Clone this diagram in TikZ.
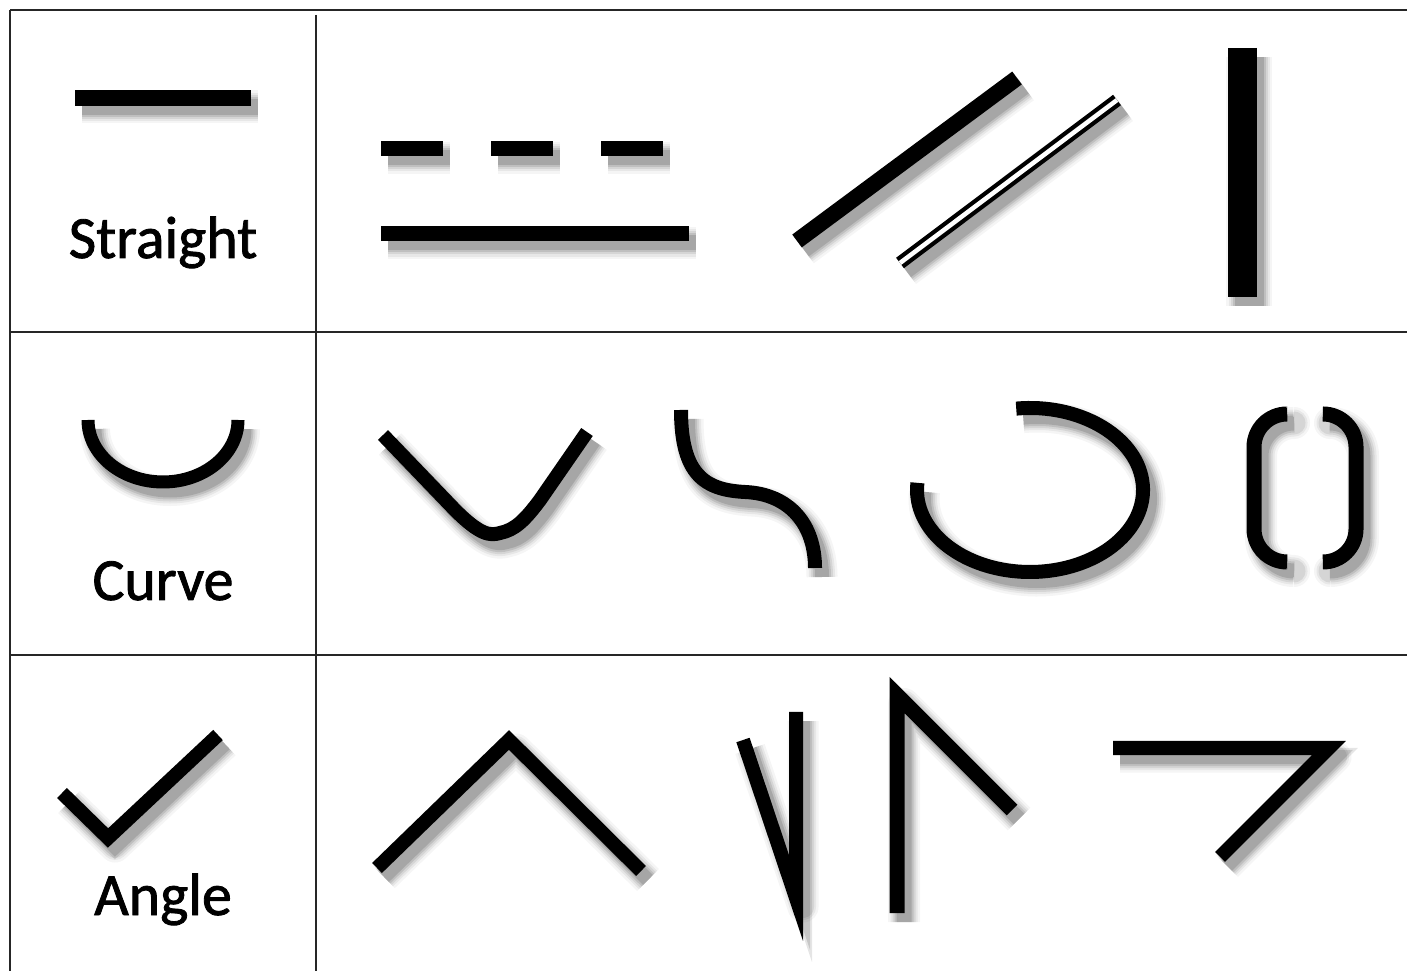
\documentclass[tikz,border=0pt]{standalone}
\usepackage{fontspec}
\setmainfont{Carlito}
\newfontfamily\labelfont{Carlito}[FakeBold=1.4]
\usetikzlibrary{calc}

\begin{document}
\begin{tikzpicture}[
    x=0.01cm, y=-0.01cm,
    font=\labelfont\fontsize{17}{20}\selectfont,
    rule/.style={draw=black!85, line width=0.025cm},
    divider/.style={draw=black!85, line width=0.013cm},
    shadowed/.style={
        preaction={draw=black, opacity=0.04, line width=#1+0.17cm, line join=round,
            transform canvas={shift={(0.07cm,-0.09cm)}}},
        preaction={draw=black, opacity=0.06, line width=#1+0.12cm, line join=round,
            transform canvas={shift={(0.07cm,-0.09cm)}}},
        preaction={draw=black, opacity=0.08, line width=#1+0.08cm, line join=round,
            transform canvas={shift={(0.07cm,-0.09cm)}}},
        preaction={draw=black, opacity=0.10, line width=#1+0.04cm,
            transform canvas={shift={(0.07cm,-0.09cm)}}},
        preaction={draw=black, opacity=0.13, line width=#1,
            transform canvas={shift={(0.07cm,-0.09cm)}}}
    },
    shadowed/.default=0.14cm,
    glyph/.style={draw=black, line width=#1, shadowed=#1},
    glyph/.default=0.14cm,
    rowlabel/.style={anchor=base, inner sep=0pt}
]
    \useasboundingbox (0,0) rectangle (1407,971);

    % =========================================================================
    % TABLE RULES
    % =========================================================================
    \draw [rule] (10,10) -- (1407,10);
    \draw [rule] (10,10) -- (10,971);
    \draw [divider] (316,15) -- (316,971);
    \draw [rule] (10,332) -- (1407,332);
    \draw [rule] (10,655) -- (1407,655);

    % =========================================================================
    % ROW 1: STRAIGHT
    % =========================================================================
    \draw [glyph=0.16cm] (75,98) -- (251,98);
    \node [rowlabel] (straight_label) at (163,258) {Straight};

    % dashes and long bar
    \foreach \dx in {381, 491, 601}
        \draw [glyph=0.15cm] (\dx,149) -- ++(62,0);
    \draw [glyph=0.15cm] (381,234) -- (689,234);

    % diagonals
    \draw [glyph=0.16cm] (797,241) -- (1017,78);
    \draw [glyph=0.13cm, postaction={draw=white, line width=0.045cm}] (900,263) -- (1117,100);

    % upright bar
    \draw [glyph=0.29cm] (1242,48) -- (1242,297);

    % =========================================================================
    % ROW 2: CURVE
    % =========================================================================
    \draw [glyph=0.13cm] (88,420) arc [start angle=180, end angle=0, x radius=75, y radius=62];
    \node [rowlabel] (curve_label) at (163,600) {Curve};

    % bent V
    \draw [glyph] (383,435) -- (455,510) .. controls (480,535) and (490,536) .. (500,533)
        .. controls (515,530) and (525,520) .. (540,500) -- (587,432);

    % S bend
    \draw [glyph] (681,410) .. controls (681,475) and (705,490) .. (745,492)
        .. controls (790,494) and (815,525) .. (815,568);

    % open oval
    \draw [glyph] (1030,490) ++(263:113 and 82) arc [start angle=263, end angle=545, x radius=113, y radius=82];

    % brackets
    \draw [glyph=0.15cm, rounded corners=0.33cm] (1287,414) -- (1254,414) -- (1254,562) -- (1287,562);
    \draw [glyph=0.15cm, rounded corners=0.33cm] (1323,414) -- (1356,414) -- (1356,562) -- (1323,562);

    % =========================================================================
    % ROW 3: ANGLE
    % =========================================================================
    \draw [glyph] (62,793) -- (108,838) -- (218,735);
    \node [rowlabel] (angle_label) at (163,915) {Angle};

    \draw [glyph] (377,868) -- (509,740) -- (641,871);
    \draw [glyph] (743,740) -- (796,898) -- (796,712);
    \draw [glyph=0.15cm] (897,913) -- (897,695) -- (1012,810);
    \draw [glyph] (1113,748) -- (1329,748) -- (1220,857);

\end{tikzpicture}
\end{document}
